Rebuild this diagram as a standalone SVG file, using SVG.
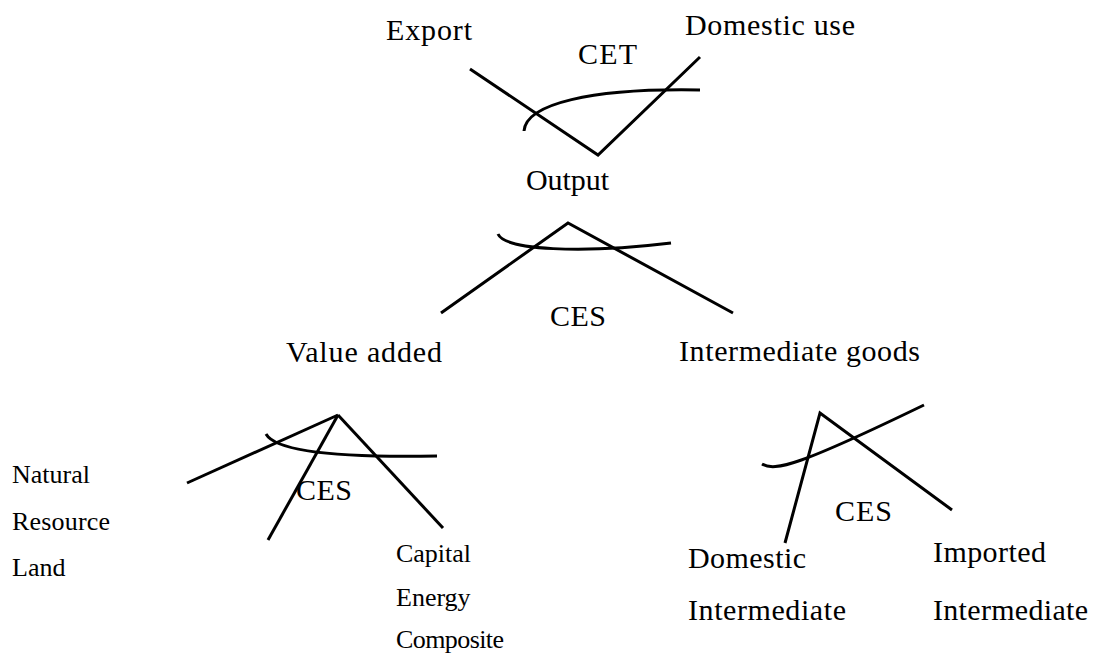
<svg xmlns="http://www.w3.org/2000/svg" width="1093" height="653" viewBox="0 0 1093 653">
  <style>
    text { font-family: "Liberation Serif", Tinos, "Times New Roman", Times, serif; font-size: 30px; fill: #000; }
    text.sm { font-size: 26px; }
    .ln { stroke: #000; stroke-width: 3; fill: none; stroke-linecap: butt; }
  </style>
  <rect width="1093" height="653" fill="#fff"/>

  <!-- Nesting branches -->
  <g id="connectors" class="ln">
    <!-- Output split (CET) -->
    <polyline points="470,69 598,155 700,57"/>
    <!-- Output composition (CES) -->
    <polyline points="441,313 568,223 733,313"/>
    <!-- Value added composition (CES) -->
    <line x1="338" y1="415" x2="187" y2="483"/>
    <line x1="338" y1="415" x2="268" y2="540"/>
    <line x1="338" y1="415" x2="443" y2="528"/>
    <!-- Intermediate goods composition (CES) -->
    <polyline points="785,543 820,413 952,510"/>
  </g>

  <!-- Elasticity arcs -->
  <g id="elasticity-arcs" class="ln">
    <path d="M524,131 C526,104 590,88 700,90"/>
    <path d="M498,234 C505,250 580,254 671,243"/>
    <path d="M266,434 C275,450 330,458 437,456"/>
    <path d="M762,464 C775,472 800,465 924,405"/>
  </g>

  <g id="node-export"><text x="386" y="40" textLength="86" lengthAdjust="spacing">Export</text></g>
  <g id="node-domestic-use"><text x="685" y="35" textLength="170" lengthAdjust="spacing">Domestic use</text></g>
  <g id="label-cet"><text x="578" y="64" textLength="59" lengthAdjust="spacing">CET</text></g>
  <g id="node-output"><text x="526" y="190" textLength="83" lengthAdjust="spacing">Output</text></g>
  <g id="label-ces-output"><text x="550" y="326" textLength="56" lengthAdjust="spacing">CES</text></g>
  <g id="node-value-added"><text x="286" y="362" textLength="156" lengthAdjust="spacing">Value added</text></g>
  <g id="node-intermediate-goods"><text x="679" y="361" textLength="241" lengthAdjust="spacing">Intermediate goods</text></g>

  <g id="node-natural-resource-land">
    <text class="sm" x="12" y="483" textLength="78" lengthAdjust="spacing">Natural</text>
    <text class="sm" x="12" y="530" textLength="98" lengthAdjust="spacing">Resource</text>
    <text class="sm" x="12" y="576">Land</text>
  </g>
  <g id="label-ces-value-added"><text x="296" y="500" textLength="56" lengthAdjust="spacing">CES</text></g>
  <g id="node-capital-energy-composite">
    <text class="sm" x="396" y="562" textLength="75" lengthAdjust="spacing">Capital</text>
    <text class="sm" x="396" y="606">Energy</text>
    <text class="sm" x="396" y="648" textLength="108" lengthAdjust="spacing">Composite</text>
  </g>

  <g id="label-ces-intermediate"><text x="835" y="521" textLength="57" lengthAdjust="spacing">CES</text></g>
  <g id="node-domestic-intermediate">
    <text x="688" y="568" textLength="118" lengthAdjust="spacing">Domestic</text>
    <text x="688" y="620" textLength="158" lengthAdjust="spacing">Intermediate</text>
  </g>
  <g id="node-imported-intermediate">
    <text x="933" y="562" textLength="113" lengthAdjust="spacing">Imported</text>
    <text x="933" y="620" textLength="155" lengthAdjust="spacing">Intermediate</text>
  </g>
</svg>
